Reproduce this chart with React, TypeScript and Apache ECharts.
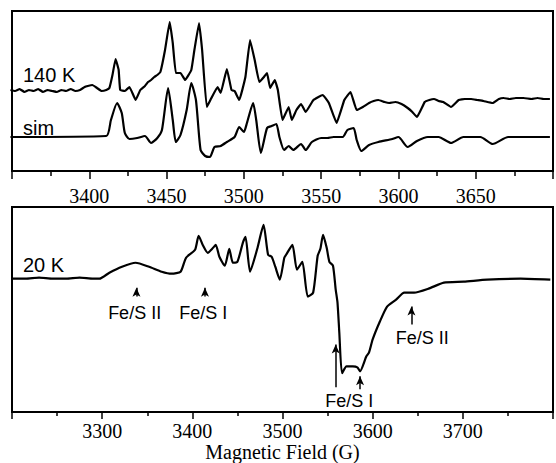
import React, { useEffect, useRef } from "react";
import * as echarts from "echarts";

// ---- Top panel: 140 K spectrum and simulation (field in G, intensity in arbitrary units)
const field140 = [3349,3352,3355,3358,3361,3364,3367,3370,3373,3376,3379,3382,3385,3388,3391,3394,3397,3399,3402,3405,3408,3411,3413,3415,3417,3419,3420,3423,3426,3430,3433,3436,3438,3440,3442,3444,3446,3449,3452,3454,3456,3459,3462,3466,3468,3471,3473,3476,3479,3483,3485,3489,3492,3494,3497,3501,3504,3507,3510,3513,3515,3517,3520,3522,3525,3529,3531,3534,3537,3540,3545,3551,3555,3560,3565,3569,3573,3577,3581,3584,3587,3591,3594,3598,3602,3606,3609,3612,3617,3620,3623,3626,3629,3634,3639,3643,3647,3651,3655,3661,3665,3668,3672,3676,3681,3686,3690,3694,3698];
const signal140 = [81,80,82,79,81,80,82,79,81,80,79,81,80,82,80,81,84,85,86,83,80,81,83,96,112,101,81,80,84,71,81,85,89,91,94,96,99,121,149,128,98,98,91,101,121,148,121,64,73,84,78,102,81,80,71,94,131,111,89,94,98,83,91,81,51,64,51,61,67,59,71,76,68,48,71,79,61,64,68,70,71,69,68,69,67,63,59,54,69,71,72,70,69,64,71,72,72,71,70,68,72,73,72,73,73,72,73,72,72];

const fieldSim = [3349,3411,3414,3418,3421,3423,3426,3431,3436,3440,3444,3447,3451,3454,3456,3459,3463,3466,3469,3472,3475,3478,3481,3485,3489,3494,3497,3500,3502,3506,3508,3511,3515,3518,3521,3523,3526,3529,3532,3537,3540,3544,3550,3554,3558,3564,3567,3571,3573,3576,3581,3587,3596,3600,3606,3612,3619,3626,3634,3642,3653,3661,3671,3698];
const signalSim = [34,35,51,68,58,38,32,33,35,28,33,41,83,51,29,36,61,88,71,21,15,14,24,25,29,34,44,39,48,68,51,18,43,45,47,34,21,25,21,27,21,29,33,33,34,34,41,43,31,20,26,29,32,34,24,30,34,34,28,34,34,27,34,34];

// ---- Bottom panel: 20 K spectrum
const field20 = [3200,3215,3230,3245,3260,3275,3290,3297,3308,3322,3337,3352,3366,3377,3387,3393,3403,3407,3412,3417,3423,3426,3430,3436,3441,3445,3450,3456,3459,3464,3472,3479,3484,3488,3492,3497,3502,3504,3511,3516,3522,3528,3534,3539,3542,3545,3549,3552,3556,3559,3561,3563,3566,3571,3578,3583,3586,3593,3596,3600,3608,3616,3626,3635,3646,3662,3679,3701,3727,3764,3797];
const signal20 = [134,134,135,134,134,135,134,134,140,146,150,146,141,139,141,155,163,177,167,160,165,168,156,147,164,150,151,170,176,141,164,188,158,156,146,133,155,158,168,143,151,116,120,157,164,178,165,151,147,123,110,80,39,46,46,45,41,56,60,73,91,106,113,120,120,124,130,131,133,134,133];

// ---- Annotations (bottom panel)
const arrowField = [3338, 3414, 3559, 3586, 3643];
const arrowTail = [116, 116, 25, 23, 88];
const arrowHead = [125, 125, 68, 36, 106];
const labelText = ["Fe/S II", "Fe/S I", "Fe/S I", "Fe/S II"];
const labelField = [3336, 3412, 3574, 3655];
const labelLevel = [100, 100, 11, 74];

// ---- Axes
const topRange = [3350, 3700];
const topStep = 50;
const bottomRange = [3200, 3800];
const bottomStep = 100;
const axisTitle = "Magnetic Field (G)";
const traceNames = ["140 K", "sim", "20 K"];

const SANS = "Liberation Sans, Arial, sans-serif";
const SERIF = "Liberation Serif, Times New Roman, serif";

export default function App() {
  const ref = useRef<HTMLDivElement>(null);
  useEffect(() => {
    const chart = echarts.init(ref.current!, null, { renderer: "svg" });
    const zip = (a: number[], b: number[]) => a.map((x, i) => [x, b[i]]);
    const arrows = arrowField.map((x, i) => [
      { coord: [x, arrowTail[i]] },
      { coord: [x, arrowHead[i]] },
    ]);
    const lineBase = {
      type: "line",
      showSymbol: false,
      symbol: "none",
      smooth: 0.2,
      lineStyle: { color: "#000", width: 2.2 },
      silent: true,
    };
    const xBase = (min: number, max: number, step: number, tickLen: number, minorLen: number, margin: number) => ({
      type: "value",
      min,
      max,
      interval: step,
      axisLine: { show: true, lineStyle: { color: "#000", width: 2 } },
      axisTick: { show: true, length: tickLen, lineStyle: { color: "#000", width: 1.5 } },
      minorTick: { show: true, splitNumber: 2, length: minorLen, lineStyle: { color: "#000", width: 1.5 } },
      splitLine: { show: false },
      axisLabel: {
        color: "#000",
        fontSize: 20,
        fontFamily: SERIF,
        margin,
        formatter: (v: number) => (v === min || v === max ? "" : String(v)),
      },
    });
    const nameText = (text: string, top: number) => ({
      type: "text",
      left: 23,
      top,
      style: { text, fontSize: 20, fontFamily: SANS, fill: "#000" },
    });
    chart.setOption({
      animation: false,
      grid: [
        { left: 12, top: 11, width: 547, height: 160, show: true, borderColor: "#000", borderWidth: 2 },
        { left: 12, top: 207, width: 547, height: 206, show: true, borderColor: "#000", borderWidth: 2 },
      ],
      xAxis: [
        { gridIndex: 0, ...xBase(topRange[0], topRange[1], topStep, 8, 5, 15) },
        {
          gridIndex: 1,
          ...xBase(bottomRange[0], bottomRange[1], bottomStep, 7, 4, 9),
          name: axisTitle,
          nameLocation: "middle",
          nameGap: 29,
          nameTextStyle: { color: "#000", fontSize: 20, fontFamily: SERIF },
        },
      ],
      yAxis: [
        { gridIndex: 0, type: "value", min: 0, max: 160, show: false },
        { gridIndex: 1, type: "value", min: 0, max: 206, show: false },
      ],
      series: [
        { ...lineBase, name: traceNames[0], xAxisIndex: 0, yAxisIndex: 0, data: zip(field140, signal140), smooth: 0.1 },
        { ...lineBase, name: traceNames[1], xAxisIndex: 0, yAxisIndex: 0, data: zip(fieldSim, signalSim) },
        {
          ...lineBase,
          name: traceNames[2],
          xAxisIndex: 1,
          yAxisIndex: 1,
          data: zip(field20, signal20),
          markLine: {
            silent: true,
            symbol: ["none", "arrow"],
            symbolSize: [6, 9],
            lineStyle: { color: "#000", width: 1.5, type: "solid" },
            label: { show: false },
            emphasis: { disabled: true },
            data: arrows,
          },
        },
      ],
    });
    // Annotation texts anchored to data coordinates through the bottom grid's scales
    const annot = labelField.map((x, i) => {
      const p = chart.convertToPixel({ gridIndex: 1 }, [x, labelLevel[i]]) as number[];
      return {
        type: "text",
        x: p[0],
        y: p[1],
        style: {
          text: labelText[i],
          fontSize: 18,
          fontFamily: SANS,
          fill: "#000",
          align: "center",
          verticalAlign: "middle",
        },
      };
    });
    chart.setOption({
      graphic: [nameText(traceNames[0], 65), nameText(traceNames[1], 118), nameText(traceNames[2], 255), ...annot],
    });
    return () => chart.dispose();
  }, []);
  return (
    <div
      ref={ref}
      style={{ position: "absolute", left: 0, top: 0, width: 556, height: 463, background: "#fff" }}
    />
  );
}
